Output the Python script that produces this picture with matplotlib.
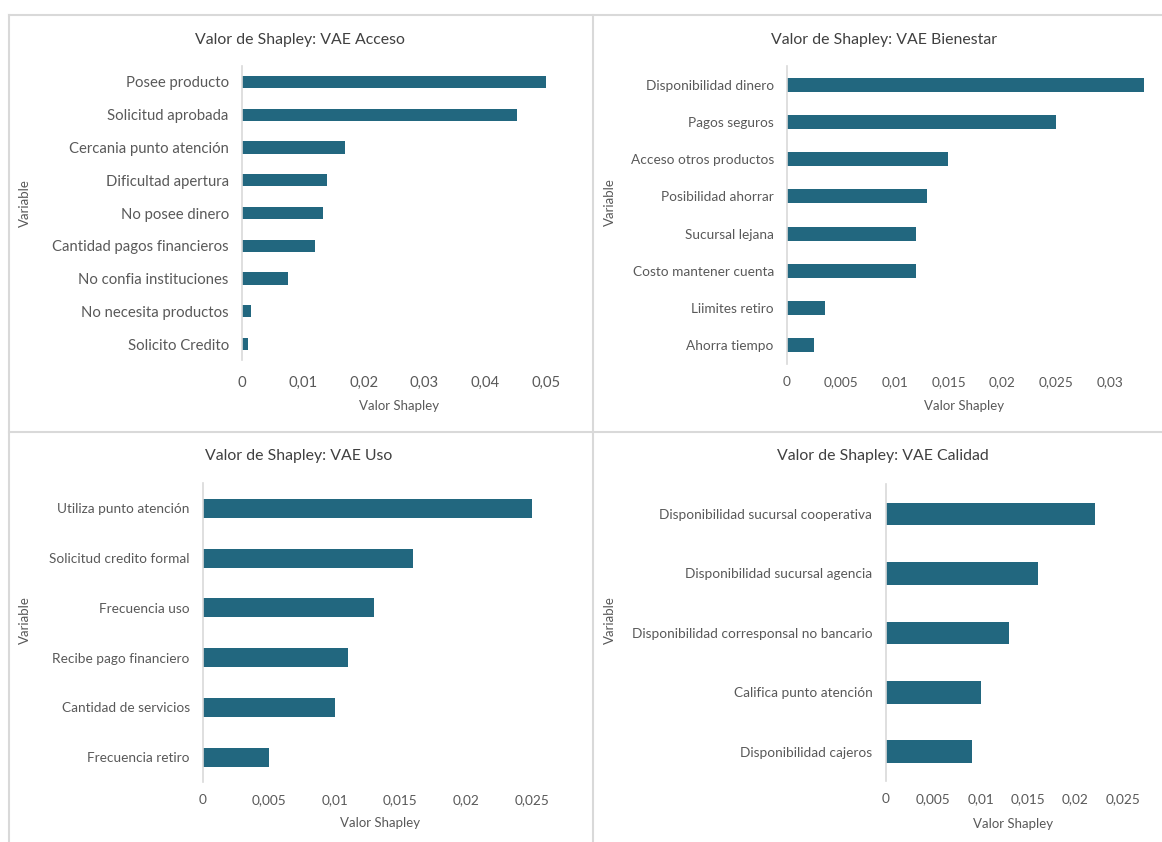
import matplotlib
matplotlib.use("Agg")
import matplotlib.pyplot as plt
from matplotlib.lines import Line2D
from matplotlib.ticker import FuncFormatter

plt.rcParams['font.family'] = ['Lato', 'DejaVu Sans']

# data (top bar first)
acceso_vars = ["Posee producto", "Solicitud aprobada", "Cercania punto atención",
               "Dificultad apertura", "No posee dinero", "Cantidad pagos financieros",
               "No confia instituciones", "No necesita productos", "Solicito Credito"]
acceso_vals = [0.0500, 0.0452, 0.0169, 0.0140, 0.0133, 0.0120, 0.0075, 0.0015, 0.0010]

bienestar_vars = ["Disponibilidad dinero", "Pagos seguros", "Acceso otros productos",
                  "Posibilidad ahorrar", "Sucursal lejana", "Costo mantener cuenta",
                  "Liimites retiro", "Ahorra tiempo"]
bienestar_vals = [0.0331, 0.0250, 0.0149, 0.0130, 0.0120, 0.0120, 0.0035, 0.0025]

uso_vars = ["Utiliza punto atención", "Solicitud credito formal", "Frecuencia uso",
            "Recibe pago financiero", "Cantidad de servicios", "Frecuencia retiro"]
uso_vals = [0.0250, 0.0160, 0.0130, 0.0110, 0.0100, 0.0050]

calidad_vars = ["Disponibilidad sucursal cooperativa", "Disponibilidad sucursal agencia",
                "Disponibilidad corresponsal no bancario", "Califica punto atención",
                "Disponibilidad cajeros"]
calidad_vals = [0.0220, 0.0160, 0.0130, 0.0100, 0.0091]

W, H = 1162, 842
BAR = "#22677f"
GRID = "#d9d9d9"
TXT = "#595959"
TITLE = "#404040"

fig = plt.figure(figsize=(W / 100, H / 100), dpi=100)

def fx(px):
    return px / W

def fy(py):
    return 1 - py / H

# panel frames
for (x0, y0, x1, y1) in [(9, 15, W, 15), (9, 15, 9, H), (592.5, 15, 592.5, H), (9, 432, W, 432)]:
    fig.add_artist(Line2D([fx(x0), fx(x1)], [fy(y0), fy(y1)], color=GRID, lw=1.5))

comma = FuncFormatter(lambda v, p: ("%g" % v).replace(".", ","))

# title, vars, vals, plot box (left, top, right, bottom) px, xmax, step, tick size, xpad,
# title pos, ylabel pos, xlabel pos
panels = [
    ("Valor de Shapley: VAE Acceso", acceso_vars, acceso_vals, (242, 65.6, 546, 360.4),
     0.05, 0.01, 10.7, 11, (300, 40), (25, 203), (399, 406)),
    ("Valor de Shapley: VAE Bienestar", bienestar_vars, bienestar_vals, (787, 66.4, 1148, 363.6),
     0.0335, 0.005, 9.8, 9, (884, 40), (610, 202), (964, 406)),
    ("Valor de Shapley: VAE Uso", uso_vars, uso_vals, (203, 483.4, 545, 782.2),
     0.026, 0.005, 9.8, 8.5, (299, 456), (25, 620), (380, 823)),
    ("Valor de Shapley: VAE Calidad", calidad_vars, calidad_vals, (885.5, 484.3, 1132.5, 781.4),
     0.026, 0.005, 9.8, 8.5, (883, 456), (610, 620), (1013, 824)),
]

for title, names, vals, box, xmax, step, fs, xpad, tpos, ypos, xpos in panels:
    l, t, r, b = box
    ax = fig.add_axes([fx(l), fy(b), fx(r - l), (b - t) / H])
    n = len(names)
    ypos_bars = list(range(n))
    ax.barh(ypos_bars, vals, height=0.38, color=BAR, clip_on=False)
    ax.set_ylim(n - 0.5, -0.5)
    ax.set_xlim(0, xmax)
    ax.set_yticks(ypos_bars)
    ax.set_yticklabels(names)
    ticks = []
    k = 0
    while k * step <= xmax + 1e-9:
        ticks.append(round(k * step, 4))
        k += 1
    ax.set_xticks(ticks)
    ax.xaxis.set_major_formatter(comma)
    ax.tick_params(axis="both", length=0, colors=TXT, labelsize=fs)
    ax.tick_params(axis="x", pad=xpad)
    ax.tick_params(axis="y", pad=9.5)
    for s in ["top", "right", "bottom"]:
        ax.spines[s].set_visible(False)
    ax.spines["left"].set_color(GRID)
    ax.spines["left"].set_linewidth(1.2)
    fig.text(fx(tpos[0]), fy(tpos[1]), title, ha="center", va="center", fontsize=11.4, color=TITLE)
    fig.text(fx(ypos[0]), fy(ypos[1]), "Variable", ha="center", va="center", rotation=90,
             fontsize=9.5, color=TXT)
    fig.text(fx(xpos[0]), fy(xpos[1]), "Valor Shapley", ha="center", va="center",
             fontsize=9.5, color=TXT)

fig.savefig("out.png", dpi=100, facecolor="white")
